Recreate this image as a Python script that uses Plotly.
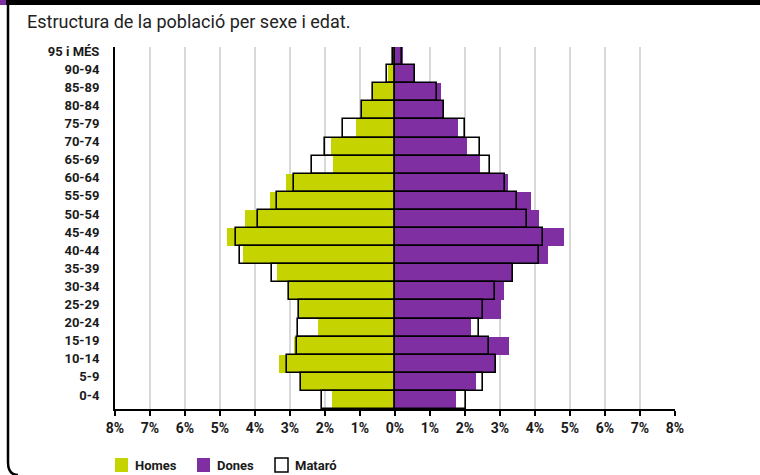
import plotly.graph_objects as go

ages = ["0-4", "5-9", "10-14", "15-19", "20-24", "25-29", "30-34", "35-39", "40-44", "45-49",
        "50-54", "55-59", "60-64", "65-69", "70-74", "75-79", "80-84", "85-89", "90-94", "95 i MÉS"]
homes = [1.79, 2.69, 3.32, 2.88, 2.19, 2.74, 3.02, 3.38, 4.33, 4.79,
         4.30, 3.57, 3.12, 1.78, 1.84, 1.12, 0.95, 0.64, 0.19, 0.03]
dones = [1.75, 2.31, 2.86, 3.27, 2.18, 3.02, 3.11, 3.36, 4.38, 4.84,
         4.10, 3.89, 3.24, 2.43, 2.07, 1.79, 1.40, 1.31, 0.56, 0.22]
mataro_homes = [2.10, 2.70, 3.10, 2.81, 2.78, 2.74, 3.02, 3.52, 4.43, 4.55,
                3.91, 3.38, 2.90, 2.36, 1.99, 1.48, 0.95, 0.64, 0.22, 0.07]
mataro_dones = [2.02, 2.50, 2.89, 2.69, 2.41, 2.52, 2.87, 3.38, 4.10, 4.23,
                3.76, 3.48, 3.13, 2.70, 2.43, 1.99, 1.40, 1.19, 0.56, 0.19]
tick_vals = [-8, -7, -6, -5, -4, -3, -2, -1, 0, 1, 2, 3, 4, 5, 6, 7, 8]
tick_text = [f"{abs(v)}%" for v in tick_vals]
legend_names = ["Homes", "Dones", "Mataró"]

GREEN = "#c5d400"
PURPLE = "#7f2fa1"
FONT = "Roboto, Lato, sans-serif"

W, H = 760, 475
L, R, T, B = 115, 85, 47, 66
pw, ph = W - L - R, H - T - B

def px(x):
    return (x - L) / pw

def py(y):
    return (H - B - y) / ph

fig = go.Figure()
fig.add_trace(go.Bar(y=ages, x=[-v for v in homes], orientation="h", name="Homes",
                     marker=dict(color=GREEN, line=dict(width=0))))
fig.add_trace(go.Bar(y=ages, x=dones, orientation="h", name="Dones",
                     marker=dict(color=PURPLE, line=dict(width=0))))
fig.add_trace(go.Bar(y=ages, x=[-v for v in mataro_homes], orientation="h", name="Mataró",
                     marker=dict(color="rgba(255,255,255,0)", line=dict(color="black", width=1.6))))
fig.add_trace(go.Bar(y=ages, x=mataro_dones, orientation="h", name="Mataró",
                     marker=dict(color="rgba(255,255,255,0)", line=dict(color="black", width=1.6))))

shapes = [
    dict(type="rect", xref="paper", yref="paper", x0=px(6), x1=px(760), y0=py(0), y1=py(5),
         fillcolor="black", line=dict(width=0), layer="above"),
    dict(type="rect", xref="paper", yref="paper", x0=px(0), x1=px(6), y0=py(0), y1=py(5),
         fillcolor=PURPLE, line=dict(width=0), layer="above"),
    dict(type="path", xref="paper", yref="paper",
         path=f"M {px(8)},{py(5)} L {px(8)},{py(462)} Q {px(8)},{py(475)} {px(18)},{py(475)}",
         line=dict(color="black", width=2.5), layer="above"),
]

# custom legend (swatches + labels)
legend_items = [(115, 133, GREEN, None), (197, 215, PURPLE, None), (275, 293, "white", "black")]
annotations = []
for (sx, tx, fill, border), name in zip(legend_items, legend_names):
    shapes.append(dict(type="rect", xref="paper", yref="paper",
                       x0=px(sx), x1=px(sx + 13), y0=py(472), y1=py(458),
                       fillcolor=fill,
                       line=dict(color=border or fill, width=1.5 if border else 0),
                       layer="above"))
    annotations.append(dict(text=name, xref="paper", yref="paper", x=px(tx), y=py(465),
                            xanchor="left", yanchor="middle", showarrow=False,
                            font=dict(family=FONT, size=13, color="#1a1a1a", weight="bold")))

fig.update_layout(
    width=W, height=H,
    margin=dict(l=L, r=R, t=T, b=B, autoexpand=False),
    paper_bgcolor="white", plot_bgcolor="white",
    barmode="overlay", bargap=0,
    font=dict(family=FONT, size=13, color="#1a1a1a"),
    title=dict(text="Estructura de la població per sexe i edat.", xref="container", yref="container",
               x=27 / W, xanchor="left", y=1 - 22 / H, yanchor="middle",
               font=dict(family=FONT, size=18, color="#222")),
    xaxis=dict(range=[-8, 8], tickvals=tick_vals, ticktext=tick_text,
               showgrid=True, gridcolor="#d9d9d9", gridwidth=1.5,
               zeroline=True, zerolinecolor="black", zerolinewidth=2,
               showline=True, linecolor="black", linewidth=2,
               ticks="outside", ticklen=5, tickcolor="black", tickwidth=1.5,
               tickfont=dict(family=FONT, size=14, color="#1a1a1a", weight="bold"),
               fixedrange=True),
    yaxis=dict(categoryorder="array", categoryarray=ages,
               showline=True, linecolor="black", linewidth=2,
               showgrid=False, ticks="", ticklabelstandoff=11, ticklabelshift=-5,
               tickfont=dict(family=FONT, size=13, color="#1a1a1a", weight="bold"),
               fixedrange=True),
    shapes=shapes,
    annotations=annotations,
    showlegend=False,
)

fig.write_html("out.html", config={"displayModeBar": False},
               post_script="document.body.style.margin='0';document.body.style.overflow='hidden';")
